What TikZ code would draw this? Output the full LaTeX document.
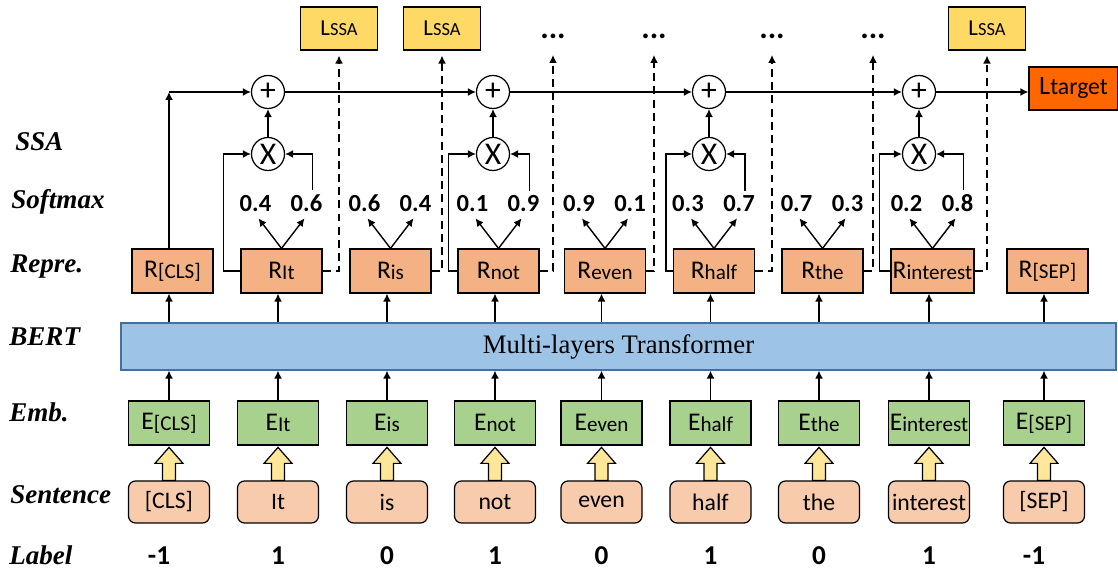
\documentclass[tikz,border=0pt]{standalone}
\usepackage{fontspec}
\setmainfont{Carlito}
\newfontfamily\timesfont{Liberation Serif}
\usepackage{tikz}
\usetikzlibrary{arrows.meta, positioning}

\definecolor{reprFill}{HTML}{F4B183}
\definecolor{embFill}{HTML}{A9D18E}
\definecolor{wordFill}{HTML}{F8CBAD}
\definecolor{bertFill}{HTML}{9DC3E6}
\definecolor{bertLine}{HTML}{41719C}
\definecolor{ssaFill}{HTML}{FFD966}
\definecolor{targetFill}{HTML}{FF6600}
\definecolor{blockFill}{HTML}{FFE699}

% token with a lowered, smaller subscript
\newcommand{\tokname}[2]{{\fontsize{14.5}{16}\selectfont #1}\raisebox{-0.1ex}{\fontsize{12}{13}\selectfont #2}}
\newcommand{\lossname}[2]{{\fontsize{13}{14}\selectfont #1}{\fontsize{10.5}{12}\selectfont #2}}

\begin{document}
\begin{tikzpicture}
    \tikzstyle{every node} = [font=\fontsize{14}{16}\selectfont]
    \tikzstyle{box} = [draw, line width=0.7pt, minimum width=1.62cm, minimum height=0.88cm, inner sep=1pt]
    \tikzstyle{repr} = [box, fill=reprFill]
    \tikzstyle{emb} = [box, fill=embFill]
    \tikzstyle{word} = [box, fill=wordFill, rounded corners=4pt, minimum height=0.84cm]
    \tikzstyle{ssa} = [box, fill=ssaFill, minimum width=1.54cm, minimum height=0.86cm]
    \tikzstyle{target} = [box, fill=targetFill, minimum width=1.78cm, minimum height=0.86cm]
    \tikzstyle{op} = [draw, circle, line width=0.7pt, minimum size=0.66cm, inner sep=0pt, font=\fontsize{18}{20}\selectfont]
    \tikzstyle{prob} = [inner sep=0pt, font=\fontsize{14}{15}\selectfont\bfseries]
    \tikzstyle{lab} = [inner sep=0pt, font=\fontsize{15.5}{17}\selectfont\bfseries]
    \tikzstyle{rowlab} = [inner sep=0pt, anchor=base west, font=\timesfont\fontsize{15.4}{18}\selectfont\bfseries\itshape]
    \tikzstyle{dots} = [inner sep=0pt, anchor=south, text depth=0.22cm, font=\fontsize{18}{20}\selectfont\bfseries]
    \tikzstyle{arr} = [-{Latex[length=4.5pt,width=4.5pt]}, line width=0.8pt]
    \tikzstyle{dasharr} = [arr, dash pattern=on 4.5pt off 3pt, shorten >=0.1cm]
    \tikzstyle{blockarr} = [draw, line width=0.7pt, fill=blockFill, line join=miter]

    \useasboundingbox (0,0) rectangle (22.36,11.46);

    % row names
    \node[rowlab] (nSSA) at (0.3,8.44) {SSA};
    \node[rowlab] (nSoftmax) at (0.22,7.28) {Softmax};
    \node[rowlab] (nRepre) at (0.2,6.00) {Repre.};
    \node[rowlab] (nBERT) at (0.18,4.54) {BERT};
    \node[rowlab] (nEmb) at (0.18,3.02) {Emb.};
    \node[rowlab] (nSentence) at (0.2,1.38) {Sentence};
    \node[rowlab] (nLabel) at (0.18,0.16) {Label};

    % place nodes
    \foreach \i/\x/\w in {1/3.38/{[CLS]}, 2/5.56/It, 3/7.74/is, 4/9.90/not, 5/12.03/even, 6/14.21/half, 7/16.38/the, 8/18.58/interest, 9/20.88/{[SEP]}}
    {
        \node[word] (s\i) at (\x,1.42) {\fontsize{13.5}{15}\selectfont\w};
        \node[emb] (e\i) at (\x,3.00) {\tokname{E}{\w}};
        \node[repr] (r\i) at (\x+0.07,6.04) {\tokname{R}{\w}};
    }
    \node[box, fill=bertFill, draw=bertLine, minimum width=19.9cm, minimum height=0.94cm, font=\timesfont\fontsize{15.2}{18}\selectfont] (bert) at (12.37,4.53) {Multi-layers Transformer};

    \foreach \x/\v [count=\n] in {3.18/-1, 5.56/1, 7.74/0, 9.90/1, 12.03/0, 14.21/1, 16.38/0, 18.58/1, 20.68/-1}
        \node[lab, anchor=base] (lab\n) at (\x,0.16) {\v};

    \foreach \k/\x in {1/5.36, 2/9.86, 3/14.18, 4/18.38}
    {
        \node[op] (mul\k) at (\x,8.38) {X};
        \node[op] (add\k) at (\x,9.62) {+};
    }

    \node[ssa] (ssa1) at (6.78,10.89) {\lossname{L}{SSA}};
    \node[ssa] (ssa2) at (8.84,10.89) {\lossname{L}{SSA}};
    \node[ssa] (ssa3) at (19.74,10.89) {\lossname{L}{SSA}};
    \node[dots] (dots1) at (11.06,10.46) {...};
    \node[dots] (dots2) at (13.08,10.46) {...};
    \node[dots] (dots3) at (15.44,10.46) {...};
    \node[dots] (dots4) at (17.46,10.46) {...};
    \node[target] (ltarget) at (21.47,9.69) {{\fontsize{15}{16}\selectfont L}{\fontsize{13.5}{15}\selectfont target}};

    % Connections
    \foreach \i in {1,...,9}
    {
        \draw[blockarr] (s\i.north) ++(-0.13,0) -- ++(0,0.34) -- ++(-0.15,0) -- ++(0.28,0.32) -- ++(0.28,-0.32) -- ++(-0.15,0) -- ++(0,-0.34) -- cycle;
        \draw[arr] (e\i.north) -- (e\i.north |- bert.south);
        \draw[arr] (bert.north -| e\i) -- (r\i.south -| e\i);
    }

    \foreach \i/\a/\b in {2/0.4/0.6, 3/0.6/0.4, 4/0.1/0.9, 5/0.9/0.1, 6/0.3/0.7, 7/0.7/0.3, 8/0.2/0.8}
    {
        \draw[arr] (r\i.north) -- ++(-0.46,0.6) node[prob, anchor=south, xshift=-0.06cm, yshift=0.12cm] (pa\i) {\a};
        \draw[arr] (r\i.north) -- ++(0.46,0.6) node[prob, anchor=south, xshift=0.04cm, yshift=0.12cm] (pb\i) {\b};
    }

    \foreach \i/\k/\dl in {2/1/0.34, 4/2/0.18, 6/3/0.14, 8/4/0.22}
    {
        \draw[arr] (r\i.west) -- ++(-\dl,0) |- (mul\k.west);
        \draw[arr] ([xshift=0.12cm,yshift=0.08cm]pb\i.north) |- (mul\k.east);
        \draw[arr] (mul\k) -- (add\k);
    }

    \draw[arr] (r1.north -| e1) -- (e1 |- add1) coordinate (c0);
    \draw[arr] (c0) -- (add1.west);
    \draw[arr] (add1) -- (add2);
    \draw[arr] (add2) -- (add3);
    \draw[arr] (add3) -- (add4);
    \draw[arr] (add4) -- (add4 -| ltarget.west);

    \foreach \i/\t in {2/ssa1, 3/ssa2, 4/dots1, 5/dots2, 6/dots3, 7/dots4, 8/ssa3}
        \draw[dasharr] (r\i.east) -| (\t.south);

\end{tikzpicture}
\end{document}
